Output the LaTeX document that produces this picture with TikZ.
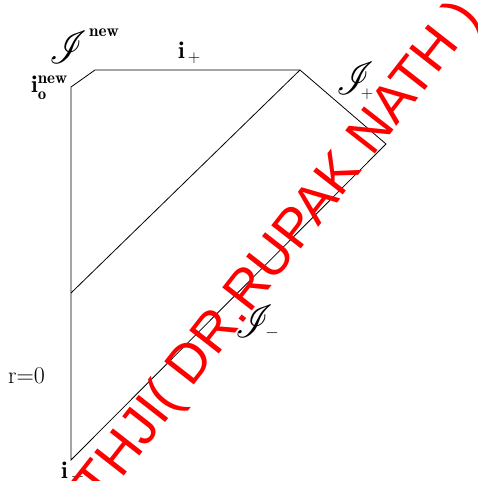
\documentclass[tikz,border=0pt]{standalone}
\usepackage{mathrsfs}
\usepackage{fontspec}
\newfontfamily\wmfont{Liberation Sans}
\newcommand{\bigscri}{\scalebox{1.5}[1.85]{$\mathscr{I}$}}
\tikzset{
  edge/.style={draw=black, line width=0.8pt},
  lbl/.style={inner sep=0pt, anchor=base west, font=\fontsize{24}{28}\selectfont},
  scr/.style={inner sep=0pt, anchor=center, font=\fontsize{24}{28}\selectfont},
  small/.style={inner sep=0pt, anchor=center, font=\fontsize{17}{20}\selectfont},
  wmark/.style={text=red, inner sep=0pt, rotate=52, font=\wmfont\fontsize{54.5}{60}\selectfont}
}
\begin{document}
\begin{tikzpicture}[x=1pt,y=-1pt]
\useasboundingbox (0,0) rectangle (478,481);
\coordinate (im) at (71,460);
\coordinate (io) at (71,87);
\coordinate (ia) at (95,70);
\coordinate (ip) at (300,70);
\coordinate (ic) at (386,144);
\coordinate (mid) at (71,293);
\draw[edge] (im) -- (io) -- (ia) -- (ip) -- (ic) -- cycle;
\draw[edge] (mid) -- (ip);
% scri^new
\node[scr] (Inew) at (68,47) {\bigscri};
\node[small] (Inewsup) at (104,33) {$\mathbf{new}$};
% i_o^new
\node[lbl] (ionew) at (31,93) {$\mathbf{i}_{\mathbf{o}}^{\mathbf{new}}$};
% i_+
\node[lbl] (iplus) at (178,59) {$\mathbf{i}_{\,+}$};
% scri_+
\node[scr] (Iplus) at (355,78) {\bigscri};
\node[small] (Iplussub) at (367,94) {$+$};
% scri_-
\node[scr] (Iminus) at (254,321) {\bigscri};
\node[small] (Iminussub) at (272,333) {$-$};
% r=0
\node[lbl] (r0) at (8,383) {r=0};
% i_-
\node[lbl] (iminus) at (61,478) {$\mathbf{i}_{\,-}$};
% watermark
\node[wmark] (wm) at (280,253) {THJI( DR.RUPAK NATH )};
\end{tikzpicture}
\end{document}
